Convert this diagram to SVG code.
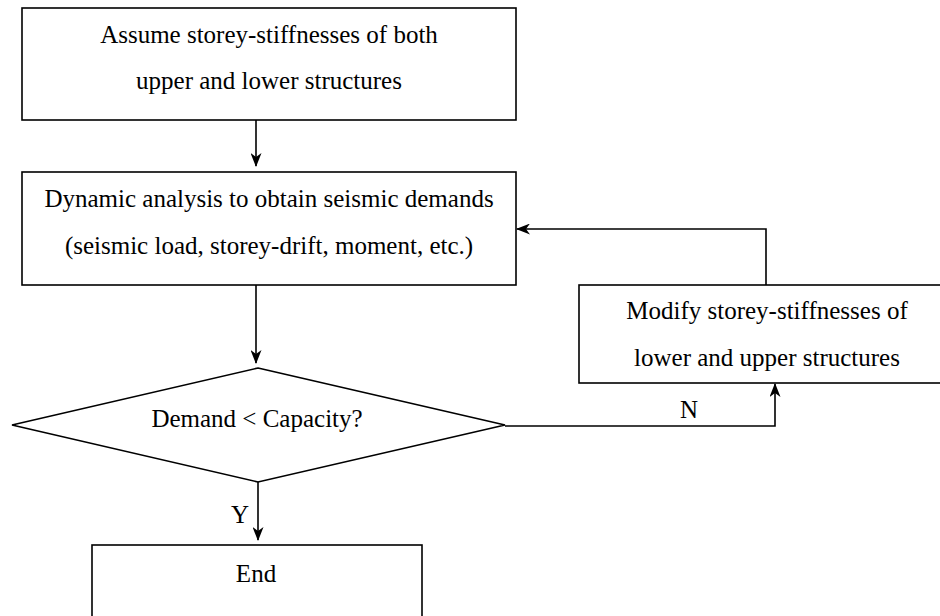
<svg xmlns="http://www.w3.org/2000/svg" width="940" height="616" viewBox="0 0 940 616">
<style>
.box{fill:#fff;stroke:#000;stroke-width:1.6}
.t{font-family:"Liberation Serif","Times New Roman",serif;font-size:25px;fill:#000;text-anchor:middle}
.c{fill:none;stroke:#000;stroke-width:1.6}
</style>
<defs>
<marker id="ah" viewBox="0 0 14 11" refX="13" refY="5.5" markerWidth="14" markerHeight="11" markerUnits="userSpaceOnUse" orient="auto">
<path d="M0,0 L14,5.5 L0,11 L4,5.5 z" fill="#000"/>
</marker>
</defs>
<rect width="940" height="616" fill="#fff"/>
<g id="assume">
<rect class="box" x="22" y="8" width="494" height="112"/>
<text class="t" x="269" y="43">Assume storey-stiffnesses of both</text>
<text class="t" x="269" y="89">upper and lower structures</text>
</g>
<g id="dynamic">
<rect class="box" x="22" y="172" width="494" height="113"/>
<text class="t" x="269" y="207">Dynamic analysis to obtain seismic demands</text>
<text class="t" x="269" y="254">(seismic load, storey-drift, moment, etc.)</text>
</g>
<g id="modify">
<rect class="box" x="579" y="285" width="380" height="98"/>
<text class="t" x="767" y="319">Modify storey-stiffnesses of</text>
<text class="t" x="767" y="366">lower and upper structures</text>
</g>
<g id="decision">
<polygon class="box" points="258,368 505,425 258,482 12,425"/>
<text class="t" x="257" y="427">Demand &lt; Capacity?</text>
</g>
<g id="end">
<rect class="box" x="92" y="545" width="330" height="100"/>
<text class="t" x="256" y="582">End</text>
</g>
<g id="connectors">
<line class="c" x1="256" y1="120" x2="256" y2="166" marker-end="url(#ah)"/>
<line class="c" x1="256" y1="285" x2="256" y2="363" marker-end="url(#ah)"/>
<line class="c" x1="258" y1="482" x2="258" y2="540" marker-end="url(#ah)"/>
<polyline class="c" points="505,426 775,426 775,384" marker-end="url(#ah)"/>
<polyline class="c" points="766,285 766,229 517,229" marker-end="url(#ah)"/>
<text class="t" x="689" y="418">N</text>
<text class="t" x="240" y="523">Y</text>
</g>
</svg>
